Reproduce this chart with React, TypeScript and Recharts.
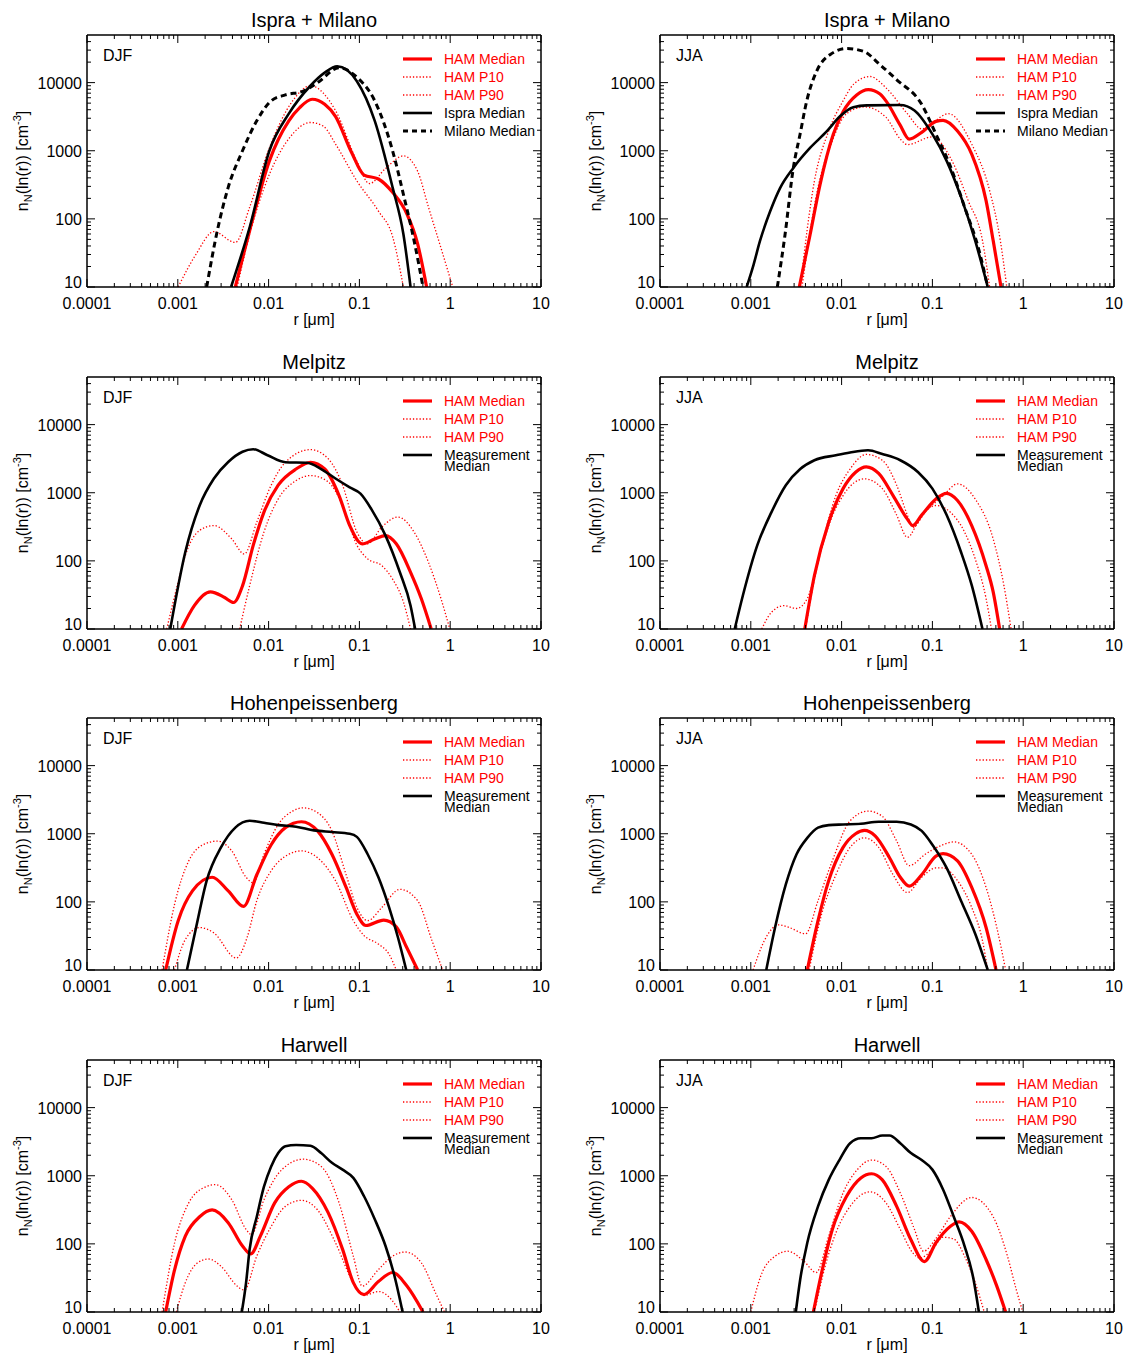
import React from "react";
import { LineChart, Line, XAxis, YAxis } from "recharts";

type Pt = [number, number];

// axis ticks
const xMajorTicks = [0.0001, 0.001, 0.01, 0.1, 1, 10];
const xTickLabels = ["0.0001", "0.001", "0.01", "0.1", "1", "10"];
const yMajorTicks = [10, 100, 1000, 10000];
const yTickLabels = ["10", "100", "1000", "10000"];
const xDomain: [number, number] = [0.0001, 10];
const yDomain: [number, number] = [10, 50000];

const panelTitles = [
	"Ispra + Milano",
	"Ispra + Milano",
	"Melpitz",
	"Melpitz",
	"Hohenpeissenberg",
	"Hohenpeissenberg",
	"Harwell",
	"Harwell",
];
const panelSeasons = ["DJF", "JJA", "DJF", "JJA", "DJF", "JJA", "DJF", "JJA"];

const hamLegendLabels = ["HAM Median", "HAM P10", "HAM P90"];
const ispraLegendLabels = ["Ispra Median", "Milano Median"];
const measLegendLabels = ["Measurement", "Median"];

// ---- Ispra + Milano, DJF
const ispraDjfHamMedian: Pt[] = [
	[0.0043, 10], [0.0062, 68], [0.0102, 710], [0.0167, 2750], [0.022, 4300],
	[0.0302, 5700], [0.0415, 4800], [0.0545, 3200], [0.0818, 950], [0.1125, 440],
	[0.162, 385], [0.232, 245], [0.334, 118], [0.438, 43], [0.55, 10],
];
const ispraDjfHamP10: Pt[] = [
	[0.0045, 10], [0.0062, 60], [0.0102, 450], [0.0167, 1500], [0.0289, 2600],
	[0.04, 2300], [0.0545, 1260], [0.0938, 360], [0.162, 130], [0.232, 55], [0.305, 10],
];
const ispraDjfHamP90: Pt[] = [
	[0.00101, 10], [0.00158, 30], [0.0025, 65], [0.0043, 45], [0.0062, 150],
	[0.0102, 1100], [0.0184, 5400], [0.0289, 9000], [0.0545, 3900], [0.0938, 700],
	[0.129, 330], [0.194, 550], [0.305, 840], [0.438, 500], [0.575, 150], [0.826, 31], [1.066, 10],
];
const ispraDjfIspra: Pt[] = [
	[0.00386, 10], [0.0062, 76], [0.0102, 1000], [0.0167, 3500], [0.0289, 9000],
	[0.0415, 14000], [0.057, 17400], [0.0938, 10500], [0.1476, 2750], [0.232, 290],
	[0.305, 60], [0.366, 10],
];
const ispraDjfMilano: Pt[] = [
	[0.00208, 10], [0.00273, 68], [0.00359, 290], [0.00516, 1000], [0.00741, 2750],
	[0.01067, 5400], [0.0153, 6600], [0.0241, 7500], [0.0346, 10000], [0.0597, 16500],
	[0.0938, 12000], [0.1476, 5400], [0.232, 1000], [0.305, 230], [0.4, 48], [0.502, 10],
];

// ---- Ispra + Milano, JJA
const ispraJjaHamMedian: Pt[] = [
	[0.00342, 10], [0.00449, 58], [0.00578, 316], [0.0081, 1740], [0.01045, 3800],
	[0.01466, 6600], [0.0197, 7900], [0.0265, 6800], [0.0311, 5300], [0.044, 2400],
	[0.0555, 1480], [0.0762, 1860], [0.1094, 2700], [0.131, 2800], [0.189, 1950],
	[0.271, 890], [0.39, 185], [0.467, 48], [0.57, 10],
];
const ispraJjaHamP10: Pt[] = [
	[0.00366, 10], [0.0055, 290], [0.0079, 1400], [0.01135, 3500], [0.01787, 4400],
	[0.0308, 3100], [0.044, 1500], [0.053, 1230], [0.1, 1600], [0.157, 800],
	[0.248, 185], [0.356, 48], [0.427, 10],
];
const ispraJjaHamP90: Pt[] = [
	[0.0035, 10], [0.00502, 360], [0.00721, 1950], [0.01038, 5400], [0.0136, 9500],
	[0.0206, 12300], [0.0308, 8400], [0.053, 3500], [0.0762, 2100], [0.105, 2700],
	[0.15, 3500], [0.271, 1250], [0.427, 260], [0.56, 48], [0.659, 10],
];
const ispraJjaIspra: Pt[] = [
	[0.0009, 10], [0.00107, 21], [0.00126, 47], [0.00163, 128], [0.0021, 283],
	[0.00294, 560], [0.00449, 1100], [0.00685, 1920], [0.0096, 3200], [0.01346, 4360],
	[0.0189, 4640], [0.044, 4700], [0.0635, 3900], [0.1, 1750], [0.1435, 710],
	[0.2065, 210], [0.296, 48], [0.407, 10],
];
const ispraJjaMilano: Pt[] = [
	[0.00196, 10], [0.00238, 58], [0.00294, 560], [0.00348, 1720], [0.00412, 5300],
	[0.00532, 14800], [0.00745, 25700], [0.01138, 31600], [0.01735, 28900], [0.0265, 18300],
	[0.0405, 11000], [0.0762, 4800], [0.1094, 1750], [0.157, 600], [0.226, 150],
	[0.325, 35], [0.407, 10],
];

// ---- Melpitz, DJF
const melpitzDjfHamMedian: Pt[] = [
	[0.0011, 10], [0.00152, 22], [0.00228, 35], [0.00328, 29], [0.00411, 24.5],
	[0.00516, 43], [0.00678, 170], [0.00889, 520], [0.01276, 1290], [0.0201, 2230],
	[0.0289, 2800], [0.0415, 2230], [0.0597, 910], [0.0783, 330], [0.1074, 178],
	[0.1476, 210], [0.194, 235], [0.2547, 178], [0.366, 68], [0.48, 28], [0.618, 10],
];
const melpitzDjfHamP10: Pt[] = [
	[0.0048, 10], [0.00618, 43], [0.00889, 265], [0.01276, 810], [0.0201, 1510],
	[0.0289, 1790], [0.0454, 1440], [0.0653, 650], [0.0938, 170], [0.1233, 107],
	[0.177, 85], [0.232, 54], [0.305, 25], [0.366, 10],
];
const melpitzDjfHamP90: Pt[] = [
	[0.000755, 10], [0.00101, 49], [0.00121, 120], [0.00174, 280], [0.0025, 330],
	[0.00393, 210], [0.0054, 126], [0.00741, 370], [0.01067, 1290], [0.0153, 2800],
	[0.0289, 4300], [0.0454, 3150], [0.0653, 1290], [0.0938, 265], [0.1233, 178],
	[0.177, 315], [0.266, 440], [0.4, 265], [0.575, 96], [0.791, 28], [0.99, 10],
];
const melpitzDjfMeas: Pt[] = [
	[0.000826, 10], [0.00121, 135], [0.00174, 650], [0.0025, 1620], [0.00359, 2830],
	[0.00516, 4000], [0.00678, 4350], [0.00973, 3550], [0.0153, 2800], [0.0264, 2750],
	[0.0379, 2230], [0.0545, 1620], [0.0783, 1200], [0.1028, 970], [0.135, 580],
	[0.194, 235], [0.279, 68], [0.366, 22], [0.411, 10],
];

// ---- Melpitz, JJA
const melpitzJjaHamMedian: Pt[] = [
	[0.00393, 10], [0.00502, 61], [0.00721, 370], [0.01038, 1150], [0.01426, 2000],
	[0.0187, 2400], [0.0256, 1920], [0.0369, 910], [0.053, 410], [0.0607, 330],
	[0.0762, 470], [0.1094, 810], [0.1435, 980], [0.189, 770], [0.271, 330],
	[0.39, 85], [0.467, 35], [0.55, 10],
];
const melpitzJjaHamP10: Pt[] = [
	[0.004, 10], [0.00502, 54], [0.00721, 330], [0.01038, 910], [0.01787, 1600],
	[0.0281, 1150], [0.0404, 470], [0.053, 222], [0.0762, 470], [0.1094, 650],
	[0.157, 520], [0.226, 265], [0.296, 107], [0.39, 28], [0.447, 10],
];
const melpitzJjaHamP90: Pt[] = [
	[0.00132, 10], [0.00169, 17.6], [0.00232, 22], [0.00319, 20], [0.00419, 28],
	[0.00603, 170], [0.00865, 910], [0.0124, 2230], [0.0187, 3650], [0.0281, 3000],
	[0.0404, 1290], [0.053, 470], [0.0607, 310], [0.0834, 520], [0.131, 900],
	[0.189, 1350], [0.296, 810], [0.467, 210], [0.612, 44], [0.735, 10],
];
const melpitzJjaMeas: Pt[] = [
	[0.000665, 10], [0.000818, 31], [0.00118, 170], [0.00169, 520], [0.00243, 1290],
	[0.0035, 2230], [0.00502, 3000], [0.00865, 3550], [0.0124, 3900], [0.01954, 4200],
	[0.0281, 3700], [0.0443, 3000], [0.0697, 2000], [0.1, 1150], [0.1435, 470],
	[0.2065, 135], [0.271, 44], [0.356, 10],
];

// ---- Hohenpeissenberg, DJF
const hohenDjfHamMedian: Pt[] = [
	[0.000735, 10], [0.00101, 53], [0.00145, 145], [0.00239, 230], [0.00359, 145],
	[0.0053, 86], [0.00741, 250], [0.01067, 690], [0.0153, 1230], [0.023, 1500],
	[0.0346, 1100], [0.0498, 500], [0.0714, 163], [0.0938, 66], [0.1178, 45],
	[0.1854, 54], [0.2547, 43], [0.334, 21], [0.438, 10],
];
const hohenDjfHamP10: Pt[] = [
	[0.00092, 10], [0.00121, 28], [0.00174, 42], [0.0025, 35], [0.0044, 15],
	[0.0058, 30], [0.00741, 104], [0.01067, 285], [0.0167, 500], [0.023, 560],
	[0.0346, 445], [0.0545, 205], [0.0857, 53], [0.1125, 32], [0.162, 24],
	[0.2124, 17], [0.2547, 10],
];
const hohenDjfHamP90: Pt[] = [
	[0.000672, 10], [0.000923, 93], [0.00132, 400], [0.0019, 690], [0.00273, 780],
	[0.00393, 560], [0.00565, 230], [0.00678, 190], [0.00889, 500], [0.01276, 1370],
	[0.01837, 2150], [0.0241, 2400], [0.0346, 2040], [0.0498, 1100], [0.0714, 250],
	[0.0938, 83], [0.1233, 53], [0.177, 83], [0.279, 153], [0.438, 104], [0.63, 27], [0.826, 10],
];
const hohenDjfMeas: Pt[] = [
	[0.00126, 10], [0.00159, 42], [0.00208, 205], [0.00299, 630], [0.0043, 1230],
	[0.00618, 1550], [0.00889, 1450], [0.01276, 1340], [0.0201, 1270], [0.0316, 1120],
	[0.0498, 1060], [0.0783, 1000], [0.0938, 900], [0.1233, 500], [0.162, 230],
	[0.2124, 83], [0.266, 30], [0.328, 10],
];

// ---- Hohenpeissenberg, JJA
const hohenJjaHamMedian: Pt[] = [
	[0.00419, 10], [0.0055, 53], [0.00721, 205], [0.01038, 630], [0.01426, 1000],
	[0.01787, 1120], [0.0234, 930], [0.0337, 445], [0.0443, 230], [0.0555, 170],
	[0.0762, 250], [0.1094, 470], [0.131, 510], [0.189, 400], [0.271, 163],
	[0.39, 42], [0.502, 10],
];
const hohenJjaHamP10: Pt[] = [
	[0.00439, 10], [0.00603, 66], [0.00865, 250], [0.0124, 630], [0.01787, 870],
	[0.0256, 630], [0.0369, 250], [0.053, 137], [0.0762, 230], [0.1094, 315],
	[0.131, 315], [0.189, 205], [0.271, 83], [0.356, 27], [0.407, 10],
];
const hohenJjaHamP90: Pt[] = [
	[0.00106, 10], [0.00141, 27], [0.00203, 46], [0.00266, 42], [0.004, 34],
	[0.0055, 104], [0.0079, 400], [0.0124, 1550], [0.01954, 2150], [0.0281, 1800],
	[0.0404, 780], [0.0555, 340], [0.0834, 500], [0.131, 690], [0.172, 760],
	[0.271, 500], [0.39, 163], [0.512, 42], [0.641, 10],
];
const hohenJjaMeas: Pt[] = [
	[0.00148, 10], [0.00185, 42], [0.00243, 180], [0.00319, 500], [0.00419, 870],
	[0.0055, 1230], [0.00721, 1340], [0.01038, 1370], [0.0163, 1400], [0.0256, 1500],
	[0.0404, 1500], [0.058, 1370], [0.0762, 1100], [0.1, 690], [0.1435, 315],
	[0.2065, 104], [0.296, 34], [0.407, 10],
];

// ---- Harwell, DJF
const harwellDjfHamMedian: Pt[] = [
	[0.000735, 10], [0.000923, 42], [0.00121, 130], [0.00174, 250], [0.00239, 315],
	[0.00359, 205], [0.00516, 93], [0.00635, 71], [0.00811, 130], [0.01167, 400],
	[0.0167, 690], [0.023, 830], [0.0302, 660], [0.0454, 285], [0.0653, 83],
	[0.0857, 27], [0.1125, 18], [0.162, 28], [0.232, 38], [0.334, 24], [0.502, 10],
];
const harwellDjfHamP10: Pt[] = [
	[0.000964, 10], [0.00121, 27], [0.00166, 53], [0.00218, 60], [0.00299, 47],
	[0.00451, 24], [0.0054, 21], [0.00741, 66], [0.01067, 180], [0.0153, 355],
	[0.023, 435], [0.0346, 315], [0.0545, 104], [0.0857, 27], [0.1125, 17.5],
	[0.162, 20], [0.232, 14.5], [0.279, 10],
];
const harwellDjfHamP90: Pt[] = [
	[0.000672, 10], [0.000923, 104], [0.00132, 400], [0.0019, 660], [0.00261, 740],
	[0.00393, 445], [0.00565, 163], [0.00647, 137], [0.00889, 445], [0.014, 1230],
	[0.0241, 1750], [0.0379, 1370], [0.0597, 400], [0.0857, 66], [0.1074, 24],
	[0.162, 42], [0.232, 66], [0.319, 76], [0.48, 53], [0.69, 19], [0.865, 10],
];
const harwellDjfMeas: Pt[] = [
	[0.00507, 10], [0.00565, 27], [0.00618, 83], [0.00741, 250], [0.00889, 690],
	[0.01067, 1370], [0.01276, 2150], [0.0153, 2700], [0.0201, 2830], [0.0289, 2750],
	[0.0379, 2150], [0.0498, 1550], [0.0653, 1230], [0.0857, 930], [0.1125, 500],
	[0.1476, 230], [0.194, 93], [0.243, 34], [0.299, 10],
];

// ---- Harwell, JJA
const harwellJjaHamMedian: Pt[] = [
	[0.00489, 10], [0.00603, 38], [0.0079, 163], [0.01135, 500], [0.0163, 930],
	[0.0214, 1070], [0.0281, 870], [0.0404, 355], [0.058, 115], [0.0818, 55],
	[0.1094, 104], [0.157, 180], [0.197, 210], [0.271, 153], [0.39, 59],
	[0.512, 24], [0.641, 10],
];
const harwellJjaHamP10: Pt[] = [
	[0.00502, 10], [0.00659, 47], [0.00865, 145], [0.0124, 355], [0.0205, 580],
	[0.0308, 400], [0.0443, 163], [0.0607, 74], [0.0728, 62], [0.1, 83],
	[0.131, 125], [0.172, 118], [0.226, 66], [0.296, 27], [0.372, 10],
];
const harwellJjaHamP90: Pt[] = [
	[0.001, 10], [0.00129, 34], [0.00185, 66], [0.00255, 78], [0.00383, 56],
	[0.00525, 38], [0.00721, 130], [0.01038, 560], [0.0149, 1230], [0.0214, 1700],
	[0.0308, 1370], [0.0443, 560], [0.0635, 163], [0.0798, 78], [0.1094, 120],
	[0.157, 250], [0.271, 480], [0.467, 250], [0.671, 66], [0.841, 21], [0.99, 10],
];
const harwellJjaMeas: Pt[] = [
	[0.00313, 10], [0.0035, 30], [0.00419, 104], [0.0055, 355], [0.00721, 870],
	[0.00946, 1700], [0.0124, 3000], [0.0163, 3550], [0.0214, 3550], [0.0281, 3900],
	[0.0337, 3900], [0.0443, 3000], [0.058, 2150], [0.0762, 1700], [0.1, 1230],
	[0.131, 630], [0.172, 250], [0.226, 93], [0.284, 30], [0.325, 10],
];

type Kind = "median" | "pct" | "meas" | "milano";

const panelSeries: [Pt[], Kind][][] = [
	[[ispraDjfHamP10, "pct"], [ispraDjfHamP90, "pct"], [ispraDjfHamMedian, "median"], [ispraDjfIspra, "meas"], [ispraDjfMilano, "milano"]],
	[[ispraJjaHamP10, "pct"], [ispraJjaHamP90, "pct"], [ispraJjaHamMedian, "median"], [ispraJjaIspra, "meas"], [ispraJjaMilano, "milano"]],
	[[melpitzDjfHamP10, "pct"], [melpitzDjfHamP90, "pct"], [melpitzDjfHamMedian, "median"], [melpitzDjfMeas, "meas"]],
	[[melpitzJjaHamP10, "pct"], [melpitzJjaHamP90, "pct"], [melpitzJjaHamMedian, "median"], [melpitzJjaMeas, "meas"]],
	[[hohenDjfHamP10, "pct"], [hohenDjfHamP90, "pct"], [hohenDjfHamMedian, "median"], [hohenDjfMeas, "meas"]],
	[[hohenJjaHamP10, "pct"], [hohenJjaHamP90, "pct"], [hohenJjaHamMedian, "median"], [hohenJjaMeas, "meas"]],
	[[harwellDjfHamP10, "pct"], [harwellDjfHamP90, "pct"], [harwellDjfHamMedian, "median"], [harwellDjfMeas, "meas"]],
	[[harwellJjaHamP10, "pct"], [harwellJjaHamP90, "pct"], [harwellJjaHamMedian, "median"], [harwellJjaMeas, "meas"]],
];

const FONT = '"Liberation Sans", Arial, Helvetica, sans-serif';
const RED = "#ff0000";
const W = 560;
const H = 327;
// plot area: x 87..541, y 35..287 inside each chart box; axes take 1px each
const AX = 1;
const M = { top: 35 - AX, right: 19 - AX, bottom: 40 - AX, left: 87 - AX };
const PLOT_L = 87;
const PLOT_T = 35;
const PLOT_W = 454;
const PLOT_H = 252;
const colLeft = [0, 573];
const rowTop = [0, 341.7, 683.4, 1025.1];

const lineStyle: Record<Kind, { stroke: string; strokeWidth: number; strokeDasharray?: string }> = {
	median: { stroke: RED, strokeWidth: 3.2 },
	pct: { stroke: RED, strokeWidth: 1.3, strokeDasharray: "1.3 2" },
	meas: { stroke: "#000", strokeWidth: 2.6 },
	milano: { stroke: "#000", strokeWidth: 3, strokeDasharray: "6 4" },
};

const logTicks = (majors: number[], max: number) =>
	majors
		.flatMap((m) => [1, 2, 3, 4, 5, 6, 7, 8, 9].map((k) => +(m * k).toPrecision(6)))
		.filter((v) => v < max * 0.999 || majors.includes(v));

const xTicks = logTicks(xMajorTicks, xDomain[1]);
const yTicks = logTicks(yMajorTicks, yDomain[1]);

const labelOf = (v: number, majors: number[], labels: string[]) => {
	const i = majors.findIndex((m) => Math.abs(v / m - 1) < 1e-6);
	return i >= 0 ? labels[i] : null;
};

const MAJOR = 8;
const MINOR = 4;

const BottomTick = (props: any) => {
	const { x, y, payload } = props;
	const label = labelOf(payload.value, xMajorTicks, xTickLabels);
	return (
		<g>
			<line x1={x} x2={x} y1={y} y2={y - (label ? MAJOR : MINOR)} stroke="#000" strokeWidth={1} />
			{label && (
				<text x={x} y={y + 22} textAnchor="middle" fontSize={16} fontFamily={FONT} fill="#000">
					{label}
				</text>
			)}
		</g>
	);
};

const TopTick = (props: any) => {
	const { x, y, payload } = props;
	const label = labelOf(payload.value, xMajorTicks, xTickLabels);
	return <line x1={x} x2={x} y1={y} y2={y + (label ? MAJOR : MINOR)} stroke="#000" strokeWidth={1} />;
};

const LeftTick = (props: any) => {
	const { x, y, payload } = props;
	const label = labelOf(payload.value, yMajorTicks, yTickLabels);
	return (
		<g>
			<line x1={x} x2={x + (label ? MAJOR : MINOR)} y1={y} y2={y} stroke="#000" strokeWidth={1} />
			{label && (
				<text
					x={x - 5}
					y={y + (payload.value === 10 ? 1 : 6)}
					textAnchor="end"
					fontSize={16}
					fontFamily={FONT}
					fill="#000"
				>
					{label}
				</text>
			)}
		</g>
	);
};

const RightTick = (props: any) => {
	const { x, y, payload } = props;
	const label = labelOf(payload.value, yMajorTicks, yTickLabels);
	return <line x1={x} x2={x - (label ? MAJOR : MINOR)} y1={y} y2={y} stroke="#000" strokeWidth={1} />;
};

const axisLine = { stroke: "#000", strokeWidth: 1.5 };

const LegendRow = ({ y, kind, label, color }: { y: number; kind: Kind; label: string; color: string }) => (
	<g>
		<line
			x1={403}
			x2={432}
			y1={y}
			y2={y}
			{...lineStyle[kind]}
			strokeDasharray={kind === "milano" ? "5 4" : lineStyle[kind].strokeDasharray}
		/>
		<text x={444} y={y + 5} fontSize={14} fontFamily={FONT} fill={color}>
			{label}
		</text>
	</g>
);

const Panel = ({ index }: { index: number }) => {
	const series = panelSeries[index];
	const isIspra = index < 2;
	const cx = PLOT_L + PLOT_W / 2;
	const cy = PLOT_T + PLOT_H / 2;
	return (
		<div
			style={{
				position: "absolute",
				left: colLeft[index % 2],
				top: rowTop[Math.floor(index / 2)],
				width: W,
				height: H,
			}}
		>
			<LineChart width={W} height={H} margin={M}>
				<XAxis
					xAxisId="b"
					dataKey="r"
					type="number"
					scale="log"
					domain={xDomain}
					allowDataOverflow
					ticks={xTicks}
					interval={0}
					height={AX}
					tickSize={0}
					tickMargin={0}
					tickLine={false}
					axisLine={axisLine}
					tick={BottomTick}
					orientation="bottom"
				/>
				<XAxis
					xAxisId="t"
					dataKey="r"
					type="number"
					scale="log"
					domain={xDomain}
					allowDataOverflow
					ticks={xTicks}
					interval={0}
					height={AX}
					tickSize={0}
					tickMargin={0}
					tickLine={false}
					axisLine={axisLine}
					tick={TopTick}
					orientation="top"
				/>
				<YAxis
					yAxisId="l"
					type="number"
					scale="log"
					domain={yDomain}
					allowDataOverflow
					ticks={yTicks}
					interval={0}
					width={AX}
					tickSize={0}
					tickMargin={0}
					tickLine={false}
					axisLine={axisLine}
					tick={LeftTick}
					orientation="left"
				/>
				<YAxis
					yAxisId="r"
					type="number"
					scale="log"
					domain={yDomain}
					allowDataOverflow
					ticks={yTicks}
					interval={0}
					width={AX}
					tickSize={0}
					tickMargin={0}
					tickLine={false}
					axisLine={axisLine}
					tick={RightTick}
					orientation="right"
				/>
				{series.map(([pts, kind], i) => (
					<Line
						key={i}
						xAxisId="b"
						yAxisId="l"
						data={pts.map(([r, n]) => ({ r, n }))}
						dataKey="n"
						type="monotone"
						dot={false}
						activeDot={false}
						isAnimationActive={false}
						{...lineStyle[kind]}
					/>
				))}
			</LineChart>
			<svg
				width={W}
				height={H}
				style={{ position: "absolute", left: 0, top: 0, pointerEvents: "none", overflow: "visible" }}
				fontFamily={FONT}
			>
				<text x={cx} y={PLOT_T - 8} textAnchor="middle" fontSize={20} fill="#000">
					{panelTitles[index]}
				</text>
				<text x={PLOT_L + 16} y={PLOT_T + 26} fontSize={16} fill="#000">
					{panelSeasons[index]}
				</text>
				<text transform={`translate(28,${cy}) rotate(-90)`} textAnchor="middle" fontSize={16} fill="#000">
					n
					<tspan fontSize={11} dy={4}>N</tspan>
					<tspan dy={-4}>(ln(r)) [cm</tspan>
					<tspan fontSize={11} dy={-7}>-3</tspan>
					<tspan dy={7}>]</tspan>
				</text>
				<text x={cx} y={PLOT_T + PLOT_H + 38} textAnchor="middle" fontSize={16} fill="#000">
					r [μm]
				</text>
				<LegendRow y={PLOT_T + 24} kind="median" label={hamLegendLabels[0]} color={RED} />
				<LegendRow y={PLOT_T + 42} kind="pct" label={hamLegendLabels[1]} color={RED} />
				<LegendRow y={PLOT_T + 60} kind="pct" label={hamLegendLabels[2]} color={RED} />
				{isIspra ? (
					<>
						<LegendRow y={PLOT_T + 78} kind="meas" label={ispraLegendLabels[0]} color="#000" />
						<LegendRow y={PLOT_T + 96} kind="milano" label={ispraLegendLabels[1]} color="#000" />
					</>
				) : (
					<>
						<LegendRow y={PLOT_T + 78} kind="meas" label={measLegendLabels[0]} color="#000" />
						<text x={444} y={PLOT_T + 94} fontSize={14} fill="#000">
							{measLegendLabels[1]}
						</text>
					</>
				)}
			</svg>
		</div>
	);
};

export default function App() {
	return (
		<div
			style={{
				position: "absolute",
				left: 0,
				top: 0,
				width: 1125,
				height: 1353,
				overflow: "hidden",
				background: "#fff",
				fontFamily: FONT,
			}}
		>
			{panelTitles.map((_, i) => (
				<Panel key={i} index={i} />
			))}
		</div>
	);
}
